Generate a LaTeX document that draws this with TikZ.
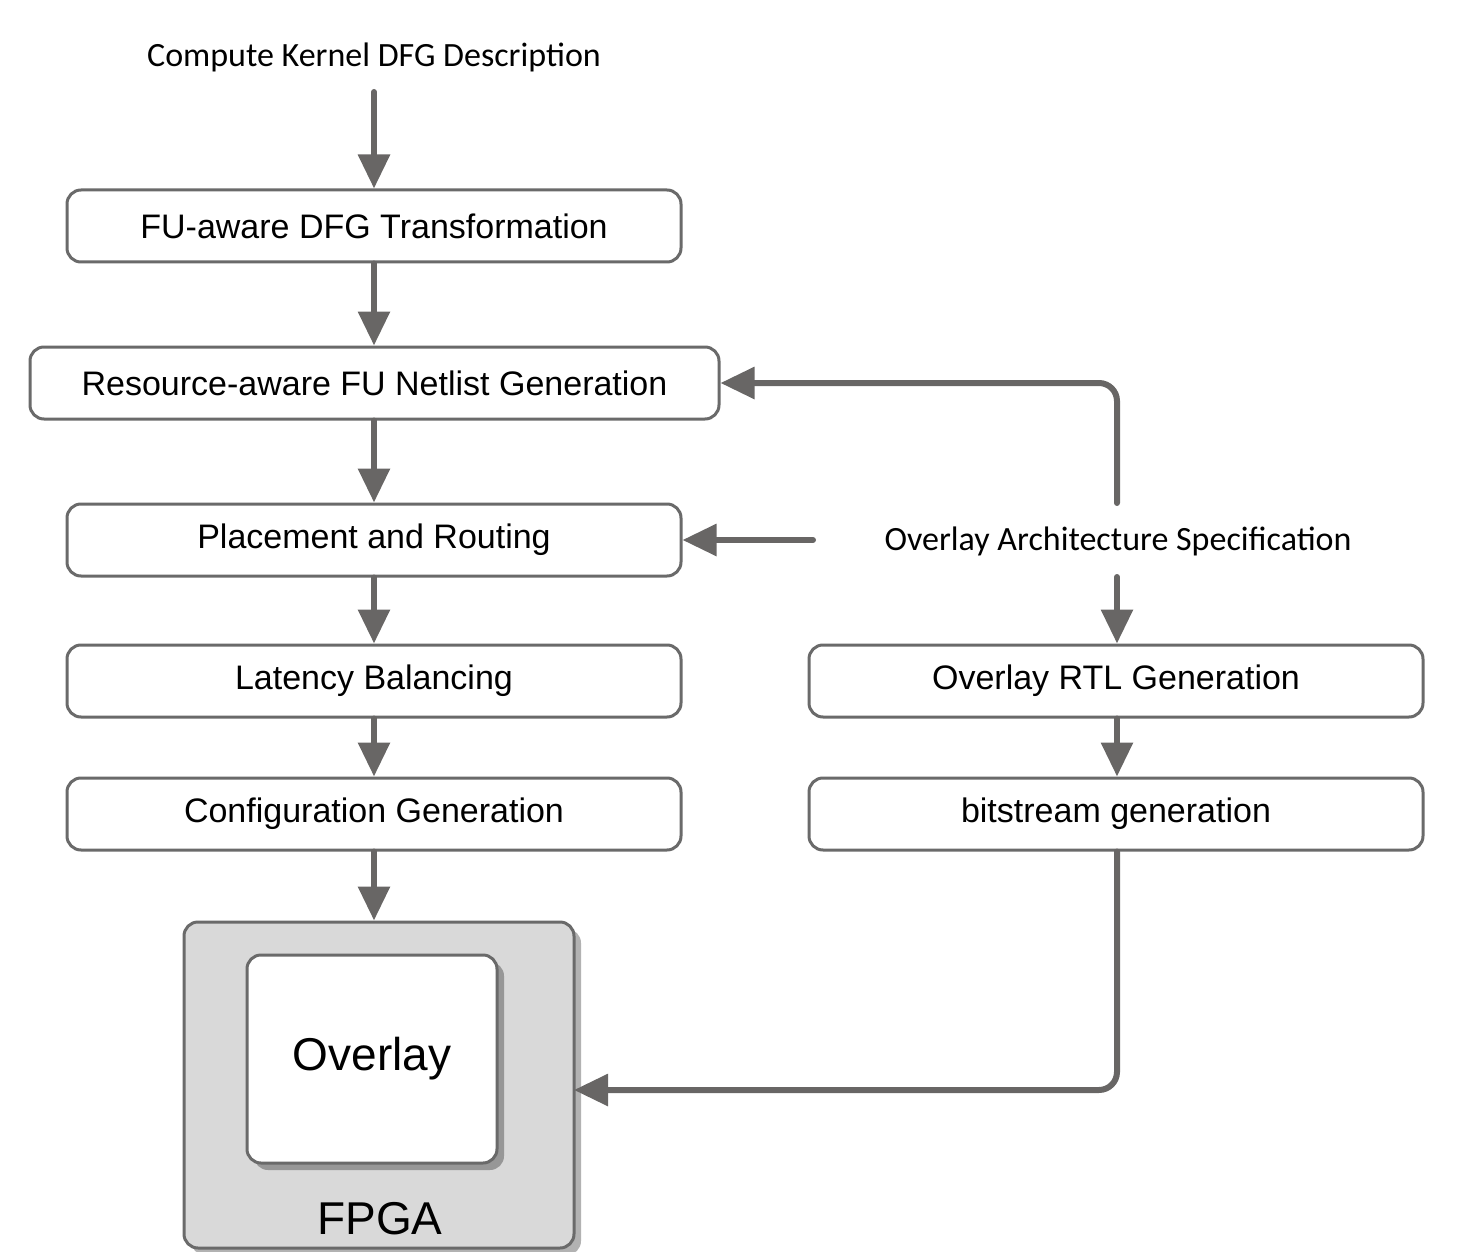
\documentclass[tikz,border=0pt]{standalone}
\usepackage{fontspec}
\setmainfont{Liberation Sans}
\newfontfamily\calfont{Carlito}
\usetikzlibrary{arrows.meta,shadows}
\definecolor{linegray}{HTML}{686665}
\definecolor{boxgray}{HTML}{6A6A6A}
\definecolor{fpgafill}{HTML}{D9D9D9}
\tikzset{
  stepbox/.style={draw=boxgray, line width=3pt, rounded corners=14pt, fill=white,
    minimum width=614pt, minimum height=72pt, inner sep=0pt,
    font=\fontsize{34}{40}\selectfont},
  flow/.style={draw=linegray, line width=6pt, line cap=round,
    -{Triangle[width=31pt,length=34pt,line cap=butt]}},
  lbl/.style={font=\calfont\fontsize{34}{40}\selectfont, inner sep=0pt},
  myshadow/.style={drop shadow={shadow xshift=7pt, shadow yshift=-7pt, fill=black, opacity=0.3}}
}
\begin{document}
\begin{tikzpicture}[x=1pt,y=-1pt]
\useasboundingbox (0,0) rectangle (1476,1252);
\node[lbl] (cdfg) at (374,57) {Compute Kernel DFG Description};
\node[stepbox] (fu) at (374,226) {FU-aware DFG Transformation};
\node[stepbox, minimum width=689pt] (res) at (374.5,383) {Resource-aware FU Netlist Generation};
\node[stepbox] (pr) at (374,540) {Placement and Routing};
\node[stepbox] (lat) at (374,681) {Latency Balancing};
\node[stepbox] (cfg) at (374,814) {Configuration Generation};
\node[lbl] (spec) at (1118,541) {Overlay Architecture Specification};
\node[stepbox] (rtl) at (1116,681) {Overlay RTL Generation};
\node[stepbox] (bit) at (1116,814) {bitstream generation};
\node[draw=boxgray, line width=3pt, rounded corners=14pt, fill=fpgafill,
  minimum width=390pt, minimum height=326pt, myshadow] (fpga) at (379,1085) {};
\node[font=\fontsize{46}{52}\selectfont, anchor=base] (fpgalbl) at (380,1234) {FPGA};
\node[draw=boxgray, line width=3pt, rounded corners=14pt, fill=white,
  minimum width=250pt, minimum height=208pt, myshadow,
  font=\fontsize{46}{52}\selectfont] (ovl) at (372,1059) {Overlay};
\coordinate (s1) at (374,92);
\draw[flow] (s1) -- (fu.north);
\draw[flow] (fu.south) -- (res.north -| fu.south);
\draw[flow] (res.south -| fu.south) -- (pr.north);
\draw[flow] (pr.south) -- (lat.north);
\draw[flow] (lat.south) -- (cfg.north);
\draw[flow] (cfg.south) -- (fpga.north -| cfg.south);
\coordinate (sup) at (1117,503);
\coordinate (sleft) at (813,540);
\coordinate (sdown) at (1117,577);
\coordinate (fpgain) at (574,1090);
\draw[flow, rounded corners=18pt] (sup) |- (res.east);
\draw[flow] (sleft) -- (pr.east);
\draw[flow] (sdown) -- (rtl.north -| sdown);
\draw[flow] (rtl.south -| sdown) -- (bit.north -| sdown);
\draw[flow, rounded corners=18pt] (bit.south -| sdown) |- (fpgain);
\end{tikzpicture}
\end{document}
